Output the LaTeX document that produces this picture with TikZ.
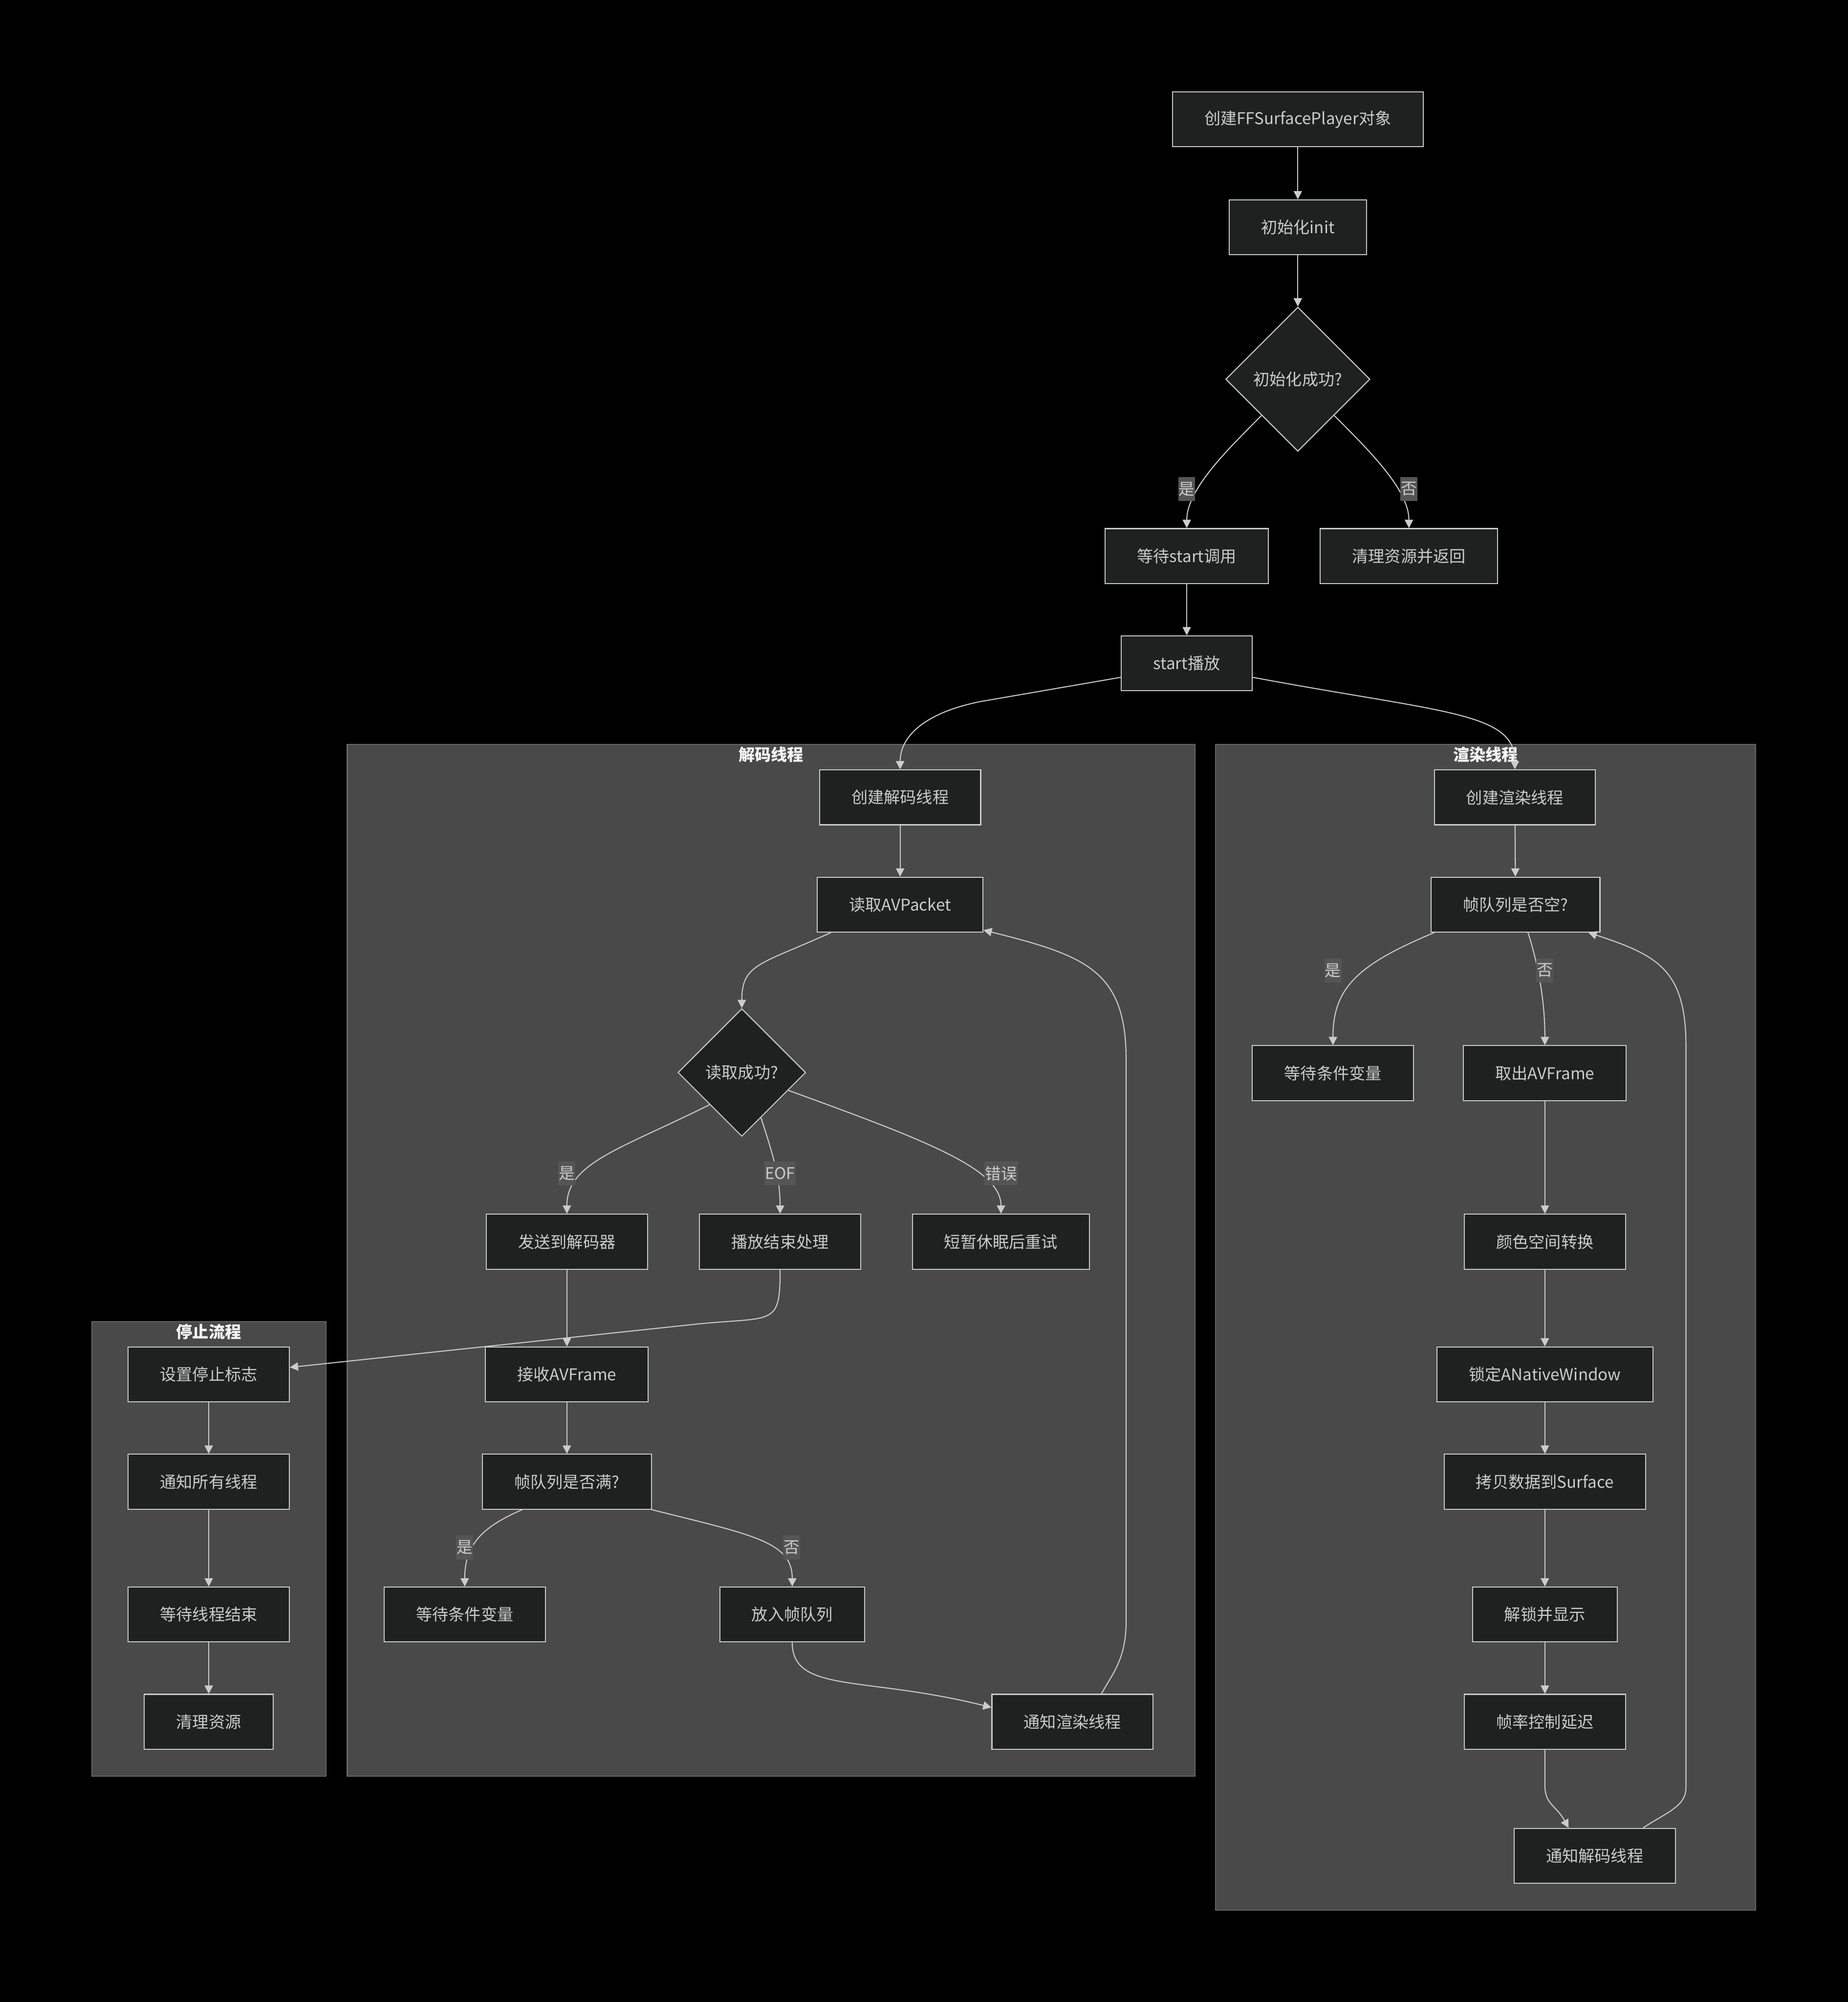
\documentclass[tikz,border=0pt]{standalone}
\usepackage{fontspec}
\setmainfont{Noto Sans CJK SC}
\usetikzlibrary{arrows.meta,shapes.geometric}

\definecolor{nodefill}{HTML}{1F2020}
\definecolor{nodeline}{HTML}{CCCCCC}
\definecolor{clusterfill}{HTML}{484948}
\definecolor{clusterline}{HTML}{666666}
\definecolor{labelfill}{HTML}{555555}

\begin{document}
\begin{tikzpicture}[x=1pt,y=-1pt,
    box/.style={draw=nodeline,fill=nodefill,line width=0.8pt,text=nodeline,
      font=\fontsize{12.7}{15}\selectfont,inner xsep=25pt,inner ysep=2pt,minimum height=43pt},
    decision/.style={box,diamond,inner sep=1pt,minimum width=#1,minimum height=#1},
    edge/.style={draw=nodeline,line width=0.8pt,-{Triangle[length=6.5pt,width=6.5pt]}},
    elabel/.style={fill=labelfill,text=nodeline,font=\fontsize{12.5}{14}\selectfont,
      inner xsep=0.4pt,inner ysep=0pt,minimum height=19pt},
    cluster/.style={fill=clusterfill,draw=clusterline,line width=0.8pt},
    ctitle/.style={text=white!96!black,inner sep=0pt,font=\fontsize{12.7}{15}\selectfont\bfseries}]
  \path[use as bounding box,fill=black] (0,0) rectangle (1447.3,1568); % whole canvas
  % subgraphs
  \draw[cluster] (272,583) rectangle (936,1391);
  \node[ctitle] (dectitle) at (604,591) {解码线程};
  \draw[cluster] (952,583) rectangle (1375,1496);
  \node[ctitle] (rentitle) at (1163.5,591) {渲染线程};
  \draw[cluster] (72,1035) rectangle (255.5,1391);
  \node[ctitle] (stoptitle) at (163.5,1043) {停止流程};
  % main flow
  \node[box] (create) at (1016.5,93.5) {创建FFSurfacePlayer对象};
  \node[box] (init) at (1016.5,178) {初始化init};
  \node[decision=113pt] (initok) at (1016.5,297) {初始化成功?};
  \node[box] (waitstart) at (929.5,435.5) {等待start调用};
  \node[box] (cleanret) at (1103.5,435.5) {清理资源并返回};
  \node[box] (start) at (929.5,519.5) {start播放};
  % decode thread
  \node[box] (mkdec) at (705,624.5) {创建解码线程};
  \node[box] (readpkt) at (705,708.5) {读取AVPacket};
  \node[decision=100pt] (readok) at (581,840) {读取成功?};
  \node[box] (senddec) at (444,972.5) {发送到解码器};
  \node[box] (eof) at (611,972.5) {播放结束处理};
  \node[box] (retry) at (784,972.5) {短暂休眠后重试};
  \node[box] (recvframe) at (444,1076.5) {接收AVFrame};
  \node[box] (qfull) at (444,1160.5) {帧队列是否满?};
  \node[box] (waitcvd) at (364,1264.5) {等待条件变量};
  \node[box] (push) at (620.5,1264.5) {放入帧队列};
  \node[box] (notifyr) at (840,1348.5) {通知渲染线程};
  % render thread
  \node[box] (mkren) at (1186.5,624.5) {创建渲染线程};
  \node[box] (qempty) at (1187,708.5) {帧队列是否空?};
  \node[box] (waitcvr) at (1044,840.5) {等待条件变量};
  \node[box] (pop) at (1210,840.5) {取出AVFrame};
  \node[box] (convert) at (1210,972.5) {颜色空间转换};
  \node[box] (lockwin) at (1210,1076.5) {锁定ANativeWindow};
  \node[box] (copy) at (1210,1160.5) {拷贝数据到Surface};
  \node[box] (unlock) at (1210,1264.5) {解锁并显示};
  \node[box] (delay) at (1210,1348.5) {帧率控制延迟};
  \node[box] (notifyd) at (1249,1453.5) {通知解码线程};
  % stop flow
  \node[box] (setflag) at (163.5,1076.5) {设置停止标志};
  \node[box] (notifyall) at (163.5,1160.5) {通知所有线程};
  \node[box] (join) at (163.5,1264.5) {等待线程结束};
  \node[box] (cleanup) at (163.5,1348.5) {清理资源};
  % connectors, main flow
  \draw[edge] (create) -- (init);
  \draw[edge] (init) -- (initok);
  \draw[edge] (initok.south west) .. controls +(-28,28) and +(0,-30) .. (waitstart.north)
    node[elabel] at (929.5,383) {是};
  \draw[edge] (initok.south east) .. controls +(28,28) and +(0,-30) .. (cleanret.north)
    node[elabel] at (1103.5,383) {否};
  \draw[edge] (waitstart) -- (start);
  \draw[edge] (start.192) -- ++(-110,19) .. controls +(-45,9) and +(0,-25) .. (mkdec.north);
  \draw[edge] (start.-12) .. controls +(150,28) and +(0,-45) .. (mkren.north);
  % connectors, decode thread
  \draw[edge] (mkdec) -- (readpkt);
  \draw[edge] (readpkt.202) .. controls +(-55,25) and +(0,-35) .. (readok.north);
  \draw[edge] (readok.south west) .. controls +(-70,35) and +(0,-40) .. (senddec.north)
    node[elabel] at (444,919) {是};
  \draw[edge] (readok.-67) .. controls +(8,25) and +(0,-30) .. (eof.north)
    node[elabel] at (611,919) {EOF};
  \draw[edge] (readok.-21) .. controls +(110,40) and +(0,-35) .. (retry.north)
    node[elabel] at (784,919) {错误};
  \draw[edge] (senddec) -- (recvframe);
  \draw[edge] (eof.south) .. controls +(0,45) and +(60,-6) .. (546,1037) -- (setflag.5);
  \draw[edge] (recvframe) -- (qfull);
  \draw[edge] (qfull.212) .. controls +(-35,15) and +(0,-30) .. (waitcvd.north)
    node[elabel] at (364,1212) {是};
  \draw[edge] (qfull.south east) .. controls +(80,20) and +(0,-35) .. (push.north)
    node[elabel] at (620,1212) {否};
  \draw[edge] (push.south) .. controls +(0,40) and +(-100,-25) .. (notifyr.170);
  \draw[edge] (notifyr.44) .. controls +(8,-15) and +(0,30) .. (882,1270) -- (882,830)
    .. controls +(0,-70) and +(80,20) .. (readpkt.-17);
  % connectors, render thread
  \draw[edge] (mkren) -- (qempty);
  \draw[edge] (qempty.199) .. controls +(-60,25) and +(0,-45) .. (waitcvr.north)
    node[elabel] at (1044,760) {是};
  \draw[edge] (qempty.-66) .. controls +(8,25) and +(0,-35) .. (pop.north)
    node[elabel] at (1210,760) {否};
  \draw[edge] (pop) -- (convert);
  \draw[edge] (convert) -- (lockwin);
  \draw[edge] (lockwin) -- (copy);
  \draw[edge] (copy) -- (unlock);
  \draw[edge] (unlock) -- (delay);
  \draw[edge] (delay.south) -- ++(0,28) .. controls +(0,15) and +(-10,-18) .. (notifyd.133);
  \draw[edge] (notifyd.30) .. controls +(18,-12) and +(0,15) .. (1320.5,1400) -- (1320.5,820)
    .. controls +(0,-60) and +(55,18) .. (qempty.-21);
  % connectors, stop flow
  \draw[edge] (setflag) -- (notifyall);
  \draw[edge] (notifyall) -- (join);
  \draw[edge] (join) -- (cleanup);
\end{tikzpicture}
\end{document}
